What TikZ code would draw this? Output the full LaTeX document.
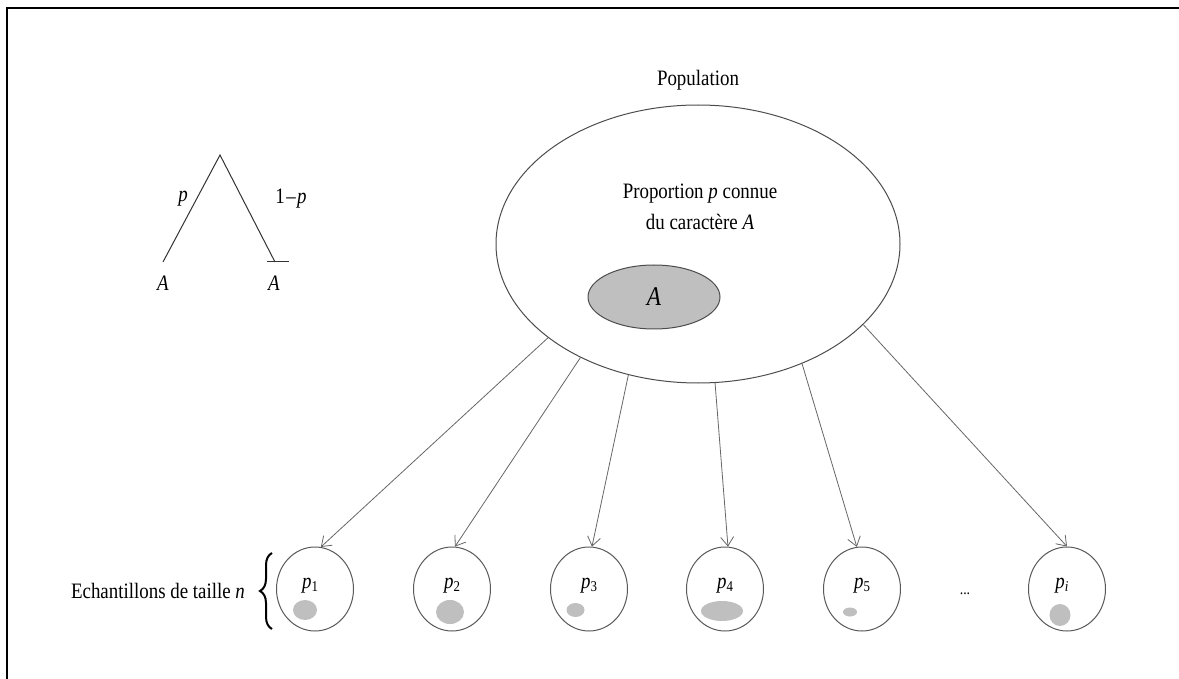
\documentclass[tikz,border=0pt]{standalone}
\usepackage{fontspec}
\setmainfont{Liberation Serif}[FakeStretch=0.86]
\usetikzlibrary{shapes.geometric,arrows.meta,decorations.pathreplacing}
\begin{document}
\begin{tikzpicture}[x=1pt,y=-1pt,
  every node/.style={font=\fontsize{22}{26}\selectfont, inner sep=0pt},
  conn/.style={draw=black!60, line width=0.8pt, -{Straight Barb[length=9pt,width=13pt,line width=0.8pt]}},
  sample/.style={ellipse, draw=black!65, line width=1pt, minimum width=77pt, minimum height=84pt},
  blob/.style={fill=black!25},
  treeline/.style={draw=black!80, line width=1pt},
  frame/.style={draw=black, line width=2.5pt}
]
\useasboundingbox (0,0) rectangle (1179,679);
% frame
\draw[frame] (7,679) -- (7,8) -- (1179,8);

% tree
\coordinate (apex) at (220,155);
\coordinate (la) at (163,262);
\coordinate (lb) at (275,262);
\draw[treeline] (la) -- (apex) -- (lb);
\draw[treeline] (lb) ++(-8,0) coordinate (bar1) -- ++(22,0) coordinate (bar2);
\node (lp) at (183,199) {\textit{p}};
\node (lq) at (291,199) {1\kern1.5pt–\kern1.5pt\textit{p}};
\node (ta) at (163,283) {\textit{A}};
\node (tb) at (274,283) {\textit{A}};

% population
\node (poptitle) at (698,80) {Population};
\node[ellipse, draw=black!70, line width=1pt, minimum width=404pt, minimum height=278pt] (pop) at (698,244) {};
\node[align=center, font=\fontsize{22}{31}\selectfont] (poptext) at (700,207) {Proportion \textit{p} connue\\du caractère \textit{A}};
\node[ellipse, draw=black!70, line width=1pt, fill=black!25, minimum width=132pt, minimum height=64pt, font=\fontsize{27}{30}\selectfont] (inner) at (654,297) {\textit{A}};

% samples
\node[sample] (s1) at (315,589) {};
\node[sample] (s2) at (452,589) {};
\node[sample] (s3) at (589,589) {};
\node[sample] (s4) at (725,589) {};
\node[sample] (s5) at (862,589) {};
\node[sample] (s6) at (1067,589) {};
\node (dots) at (965,594) {\fontsize{16}{18}\selectfont ...};

\foreach \i/\x in {1/310,2/452,3/589,4/725,5/862,6/1062}{
  \node (p\i) at (\x,586) {\textit{p}\raisebox{-3pt}{\fontsize{15}{16}\selectfont\ifnum\i=6 \textit{i}\else\i\fi}};
}
\fill[blob] (305,610) ellipse [x radius=12, y radius=10];
\fill[blob] (450,612) ellipse [x radius=14, y radius=12];
\fill[blob] (575.5,610) ellipse [x radius=9, y radius=7];
\fill[blob] (722,611) ellipse [x radius=21, y radius=10];
\fill[blob] (850,612) ellipse [x radius=7, y radius=4.5];
\fill[blob] (1060,615) ellipse [x radius=10.5, y radius=11];

% brace and label
\draw[decorate, decoration={brace, amplitude=12pt}, line width=2pt] (272,629) -- (272,553);
\node (ech) at (158,591) {Echantillons de taille \textit{n}};

% arrows
\draw[conn] (pop.212.4) -- (s1.82);
\draw[conn] (pop.224.5) -- (s2.86);
\draw[conn] (pop.242.7) -- (s3.86);
\draw[conn] (pop.277.4) -- (s4.86);
\draw[conn] (pop.311.2) -- (s5.97);
\draw[conn] (pop.334.7) -- (s6.90);
\end{tikzpicture}
\end{document}
